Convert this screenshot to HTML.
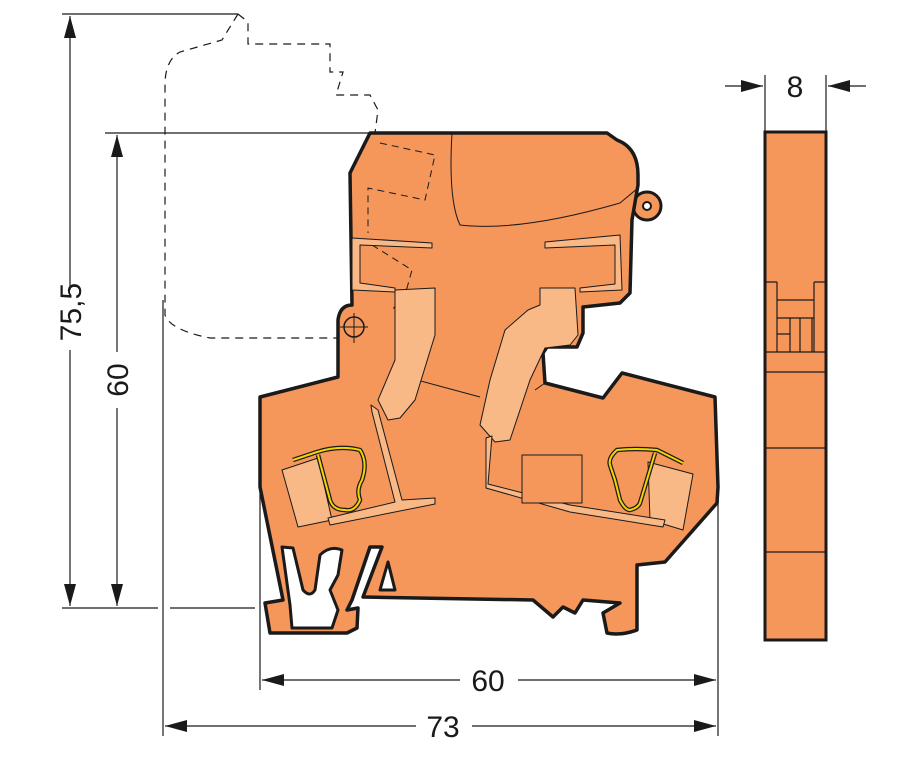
<!DOCTYPE html>
<html><head><style>html,body{margin:0;padding:0;background:#fff}svg{display:block}text{font-family:"Liberation Sans",sans-serif;font-size:30px;fill:#1a1a1a}</style></head>
<body>
<svg width="919" height="764" viewBox="0 0 919 764" xmlns="http://www.w3.org/2000/svg">
<defs><marker id="b" markerWidth="22" markerHeight="12" refX="22" refY="6" orient="auto-start-reverse" markerUnits="userSpaceOnUse"><path d="M0,0L22,6L0,12z" fill="#1a1a1a"/></marker></defs>
<g stroke="#1a1a1a" stroke-width="1.2" fill="none">
<line x1="62" y1="14" x2="238" y2="14"/>
<line x1="105" y1="133" x2="376" y2="133"/>
<line x1="62" y1="608" x2="158" y2="608"/><line x1="170" y1="608" x2="255" y2="608"/>
<line x1="163" y1="300" x2="163" y2="736"/>
<line x1="260" y1="487" x2="260" y2="690"/>
<line x1="718" y1="487" x2="718" y2="736"/>
<line x1="70" y1="16" x2="70" y2="290" marker-start="url(#b)"/><line x1="70" y1="350" x2="70" y2="606" marker-end="url(#b)"/>
<line x1="117" y1="135" x2="117" y2="352" marker-start="url(#b)"/><line x1="117" y1="408" x2="117" y2="606" marker-end="url(#b)"/>
<line x1="262" y1="680" x2="460" y2="680" marker-start="url(#b)"/><line x1="518" y1="680" x2="716" y2="680" marker-end="url(#b)"/>
<line x1="165" y1="726" x2="416" y2="726" marker-start="url(#b)"/><line x1="472" y1="726" x2="716" y2="726" marker-end="url(#b)"/>
<line x1="765" y1="75" x2="765" y2="132"/><line x1="826" y1="75" x2="826" y2="132"/>
<line x1="725" y1="86" x2="763" y2="86" marker-end="url(#b)"/><line x1="866" y1="86" x2="828" y2="86" marker-end="url(#b)"/>
<path stroke-dasharray="8,6" d="M238,14 L248,22 L248,44 L330,44 L330,72 L343,72 L336,95 L370,95 L378,110 L375,133 M238,14 L222,40 L180,52 Q165,60 165,85 L165,315 Q170,330 210,338 L342,338"/>
</g>
<text x="488" y="691" text-anchor="middle">60</text>
<text x="443" y="737" text-anchor="middle">73</text>
<text x="795" y="97" text-anchor="middle">8</text>
<text transform="translate(81,312) rotate(-90)" text-anchor="middle">75,5</text>
<text transform="translate(128,380) rotate(-90)" text-anchor="middle">60</text>
<g stroke="#1a1a1a" stroke-linejoin="round">
<circle cx="647" cy="206" r="14" fill="#f5965a" stroke-width="3"/>
<path fill="#f5965a" stroke-width="3.5" d="M370,133 L607,133 L617,140 Q638,148 638,175 L638,185 L632,220 L630,293 L620,303 L583,307 L583,333 L577,347 L547,347 L543,353 L545,383 L603,398 L622,373 L715,397 L718,487 L717,503 L665,562 L637,565 L637,630 Q620,636 607,633 L603,613 L620,603 L583,600 L575,613 L563,607 L553,617 L533,600 L363,597 L382,547 L370,547 L352,600 L347,610 L358,608 L357,628 L347,633 L270,633 L265,603 L283,600 L260,487 L260,397 L338,377 L338,320 Q340,305 352,305 L350,173 Z"/>
<path fill="#fff" stroke-width="3" d="M282,547 L293,548 L303,590 Q310,598 315,590 L320,555 Q330,545 342,550 L338,575 L330,590 L338,610 L332,628 L292,628 L290,605 Z"/>
<path fill="#fff" stroke-width="3" d="M388,562 L380,590 L395,590 Z"/>
<circle cx="647" cy="206" r="4" fill="#fff" stroke-width="2"/>
<circle cx="354" cy="327" r="10" fill="none" stroke-width="1.5"/>
<path fill="none" stroke-width="1" d="M340,327 H368 M354,313 V343 M452,133 Q448,200 460,225 Q520,232 620,203 L638,188 M417,380 L480,397 M535,390 L545,383"/>
<path fill="none" stroke-width="1" stroke-dasharray="7,5" d="M380,143 L435,155 L425,200 L368,188 L368,233 M372,245 L412,270 L405,295 L392,310"/>
<g fill="#f9b987" stroke-width="1">
<path d="M395,290 L435,288 L435,335 L415,400 L400,418 L388,420 L378,400 L395,360 Z"/>
<path d="M540,288 L575,288 L578,335 L570,345 L545,348 L530,380 L510,440 L495,442 L480,425 L490,380 L505,330 L528,310 L540,305 Z"/>
<path d="M352,238 L432,243 L432,248 L360,245 L360,283 L395,288 L395,292 L352,290 Z"/>
<path d="M545,242 L620,235 L622,290 L580,292 L580,288 L615,284 L615,245 L545,248 Z"/>
<path d="M282,470 L318,458 L332,520 L298,527 Z"/>
<path d="M648,462 L693,474 L683,530 L650,520 Z"/>
<path d="M371,405 L378,410 L402,500 L435,498 L435,504 L330,525 L328,518 L395,502 L372,412 Z"/>
<path d="M486,438 L492,436 L488,484 L570,505 L665,520 L663,527 L570,512 L486,488 Z"/>
<rect x="522" y="455" width="60" height="48" fill="#f5965a"/>
</g>
<path fill="none" stroke="#1a1a1a" stroke-width="4.5" d="M293,460 L317,452 Q340,445 360,450 Q368,462 362,480 Q356,490 360,500 Q355,512 345,510 Q333,510 330,500 L318,455"/>
<path fill="none" stroke="#f2d500" stroke-width="2" d="M293,460 L317,452 Q340,445 360,450 Q368,462 362,480 Q356,490 360,500 Q355,512 345,510 Q333,510 330,500 L318,455"/>
<path fill="none" stroke="#1a1a1a" stroke-width="4.5" d="M683,463 L657,450 Q635,448 617,450 Q608,458 610,465 L615,480 L620,500 Q625,510 630,510 Q638,508 640,503 L655,453"/>
<path fill="none" stroke="#f2d500" stroke-width="2" d="M683,463 L657,450 Q635,448 617,450 Q608,458 610,465 L615,480 L620,500 Q625,510 630,510 Q638,508 640,503 L655,453"/>
</g>
<g stroke="#1a1a1a">
<rect x="765" y="132" width="61" height="508" fill="#f5965a" stroke-width="3"/>
<g stroke-width="1.2" fill="none">
<path d="M766,282 H777 M814,282 H825 M777,282 V352 M814,282 V352 M777,300 H814 M777,318 H814 M777,334 H790 M790,318 V352 M800,318 V352 M812,318 V352"/>
<path d="M766,352 H825 M766,372 H825 M766,448 H825 M766,552 H825"/>
</g></g>
</svg>
</body></html>
